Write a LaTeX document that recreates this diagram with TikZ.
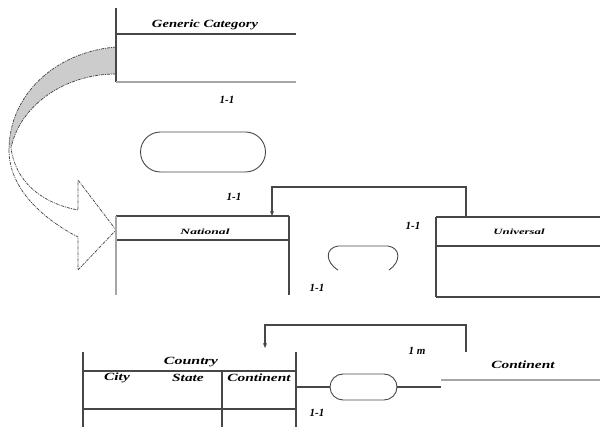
\documentclass[tikz,border=0pt]{standalone}
\usepackage{fontspec}
\usepackage{graphicx}
\setmainfont{Liberation Serif}
\usetikzlibrary{arrows.meta}
\newcommand\widetext[2]{\scalebox{#1}[1]{#2}}
\begin{document}
\begin{tikzpicture}[x=1pt,y=-1pt,
  rule/.style={draw=black!72, line width=1.1pt},
  faint/.style={draw=black!35, line width=1.1pt},
  conn/.style={draw=black!72, line width=1.1pt, -{Stealth[length=5pt,width=4pt]}},
  twist/.style={draw=black!75, line width=0.7pt, dash pattern=on 3pt off 1pt on 1pt off 1pt},
  relshape/.style={draw=black!72, line width=0.9pt, rounded corners=#1},
  title/.style={font=\fontsize{11}{13}\selectfont\bfseries\itshape, inner sep=0pt},
  small/.style={font=\fontsize{8}{9}\selectfont\bfseries\itshape, inner sep=0pt},
  card/.style={font=\fontsize{11}{13}\selectfont\bfseries\itshape, inner sep=0pt}]
\useasboundingbox (0,0) rectangle (600,427);

% curved block arrow: shaded back face
\fill[black!20] (116,47) .. controls (55,52) and (9,95) .. (9,150)
  -- (11,148) .. controls (20,105) and (65,74) .. (116,74) -- cycle;
\draw[twist] (116,47) .. controls (55,52) and (9,95) .. (9,150);
\draw[twist] (116,74) .. controls (65,74) and (20,105) .. (11,148);
% front face with the arrow head
\draw[twist, fill=white] (9,150) .. controls (9,190) and (45,220) .. (78,237)
  -- (78,270) -- (116,230) -- (78,180) -- (78,210)
  .. controls (40,203) and (15,180) .. (11,148);

% Generic Category entity
\draw[rule] (116,8) -- (116,82);
\draw[rule] (116,34) -- (296,34);
\draw[faint] (116,82) -- (296,82);
\node[title] (generic) at (205,25) {\widetext{1.33}{Generic Category}};

\node[card] (c1) at (227,100) {1-1};
\node[relshape=20pt, minimum width=125pt, minimum height=40pt, inner sep=0pt] (rel1) at (203,152) {};

% National entity
\draw[rule] (116,216) -- (289,216);
\draw[rule] (116,240) -- (289,240);
\draw[faint] (116,216) -- (116,295);
\draw[rule] (289,216) -- (289,295);
\node[small] (national) at (205,232) {\widetext{1.7}{National}};

% Universal entity
\draw[rule] (436,217) -- (600,217);
\draw[rule] (436,246) -- (600,246);
\draw[rule] (436,297) -- (600,297);
\draw[rule] (436,217) -- (436,297);
\node[small] (universal) at (519,232) {\widetext{1.6}{Universal}};

\coordinate (uniOut) at (466,217);
\coordinate (natIn) at (272,216);
\draw[conn] (uniOut) -- (466,187) -| (natIn);
\node[card] (c2) at (234,197) {1-1};
\node[card] (c3) at (413,226) {1-1};
\node[card] (c4) at (317,288) {1-1};

% open relationship shape between the two entities
\draw[draw=black!72, line width=0.9pt] (338,270) .. controls (325,262) and (325,248) .. (338,246)
  -- (388,246) .. controls (401,248) and (401,262) .. (389,270);

% Country table
\draw[rule] (83,352) -- (83,427);
\draw[rule] (296,352) -- (296,427);
\draw[rule] (83,371) -- (296,371);
\draw[rule] (83,409) -- (296,409);
\draw[rule] (222,371) -- (222,427);
\node[title] (country) at (191,362) {\widetext{1.45}{Country}};
\node[title] (city) at (117,378) {\widetext{1.4}{City}};
\node[title] (state) at (188,378) {\widetext{1.4}{State}};
\node[title] (contcol) at (259,378) {\widetext{1.4}{Continent}};

% Continent entity
\draw[faint] (441,380) -- (600,380);
\node[title] (continent) at (523,365) {\widetext{1.4}{Continent}};

\coordinate (contOut) at (466,352);
\coordinate (ctyIn) at (265,348);
\draw[conn] (contOut) -- (466,325) -| (ctyIn);
\node[card] (c5) at (417,351) {1 m};

\coordinate (ctyR) at (296,387);
\coordinate (contL) at (441,387);
\node[relshape=13pt, minimum width=67pt, minimum height=26pt, inner sep=0pt] (rel3) at (363.5,387) {};
\draw[rule] (ctyR) -- (rel3.west);
\draw[rule] (rel3.east) -- (contL);
\node[card] (c6) at (317,413) {1-1};
\end{tikzpicture}
\end{document}
